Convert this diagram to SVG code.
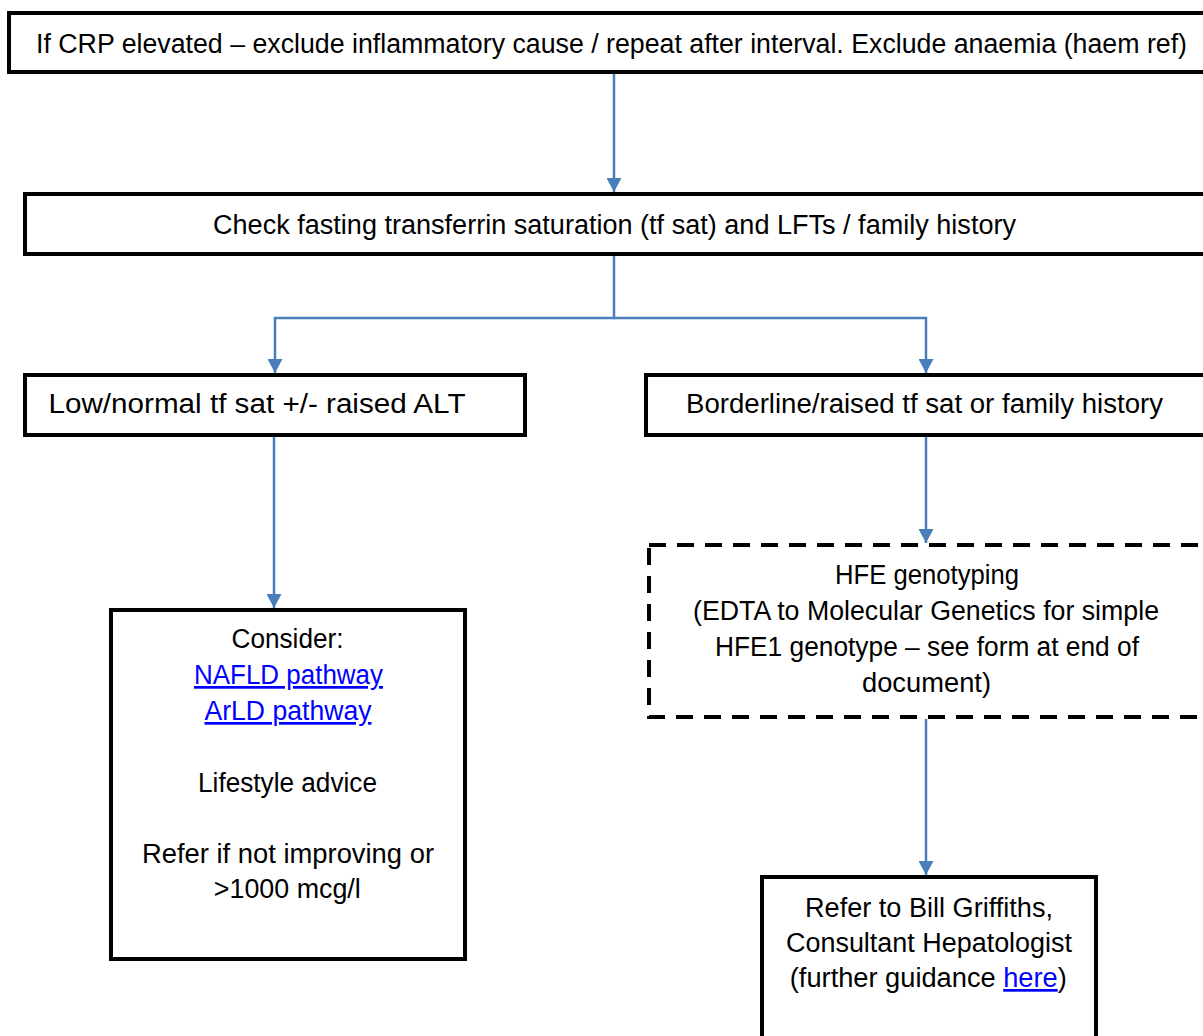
<svg xmlns="http://www.w3.org/2000/svg" width="1203" height="1036" viewBox="0 0 1203 1036">
  <defs>
    <style>
      .box { fill: #ffffff; stroke: #000000; stroke-width: 4; }
      .dashed { fill: #ffffff; stroke: #000000; stroke-width: 4; stroke-dasharray: 17 11; }
      .conn { fill: none; stroke: #4a7ebb; stroke-width: 2.5; }
      .label { font-family: "Liberation Sans", Arial, sans-serif; font-size: 27px; fill: #000000; text-anchor: middle; }
      .link { fill: #0000ff; text-decoration: underline; }
    </style>
    <marker id="arrow" viewBox="0 0 14 15" refX="14" refY="7.5" markerWidth="14" markerHeight="15" markerUnits="userSpaceOnUse" orient="auto">
      <path d="M0,0 L14,7.5 L0,15 Z" fill="#4a7ebb"/>
    </marker>
  </defs>

  <rect width="1203" height="1036" fill="#ffffff"/>

  <!-- connectors -->
  <g id="connectors">
    <path class="conn" d="M614,74 V192" marker-end="url(#arrow)"/>
    <path class="conn" d="M614,256 V318 H275 V373" marker-end="url(#arrow)"/>
    <path class="conn" d="M614,318 H926 V373" marker-end="url(#arrow)"/>
    <path class="conn" d="M274,437 V608" marker-end="url(#arrow)"/>
    <path class="conn" d="M926,437 V543" marker-end="url(#arrow)"/>
    <path class="conn" d="M926,719 V875" marker-end="url(#arrow)"/>
  </g>

  <!-- CRP check -->
  <g id="crp">
    <rect class="box" x="9" y="13" width="1210" height="59"/>
    <text class="label" x="611.5" y="53" textLength="1151" lengthAdjust="spacingAndGlyphs">If CRP elevated – exclude inflammatory cause / repeat after interval. Exclude anaemia (haem ref)</text>
  </g>

  <!-- transferrin saturation -->
  <g id="tfsat">
    <rect class="box" x="25" y="194" width="1200" height="60"/>
    <text class="label" x="614.5" y="234" textLength="803" lengthAdjust="spacingAndGlyphs">Check fasting transferrin saturation (tf sat) and LFTs / family history</text>
  </g>

  <!-- low / normal branch -->
  <g id="low">
    <rect class="box" x="25" y="375" width="500" height="60"/>
    <text class="label" x="257" y="413" textLength="417" lengthAdjust="spacingAndGlyphs">Low/normal tf sat +/- raised ALT</text>
  </g>

  <!-- borderline / raised branch -->
  <g id="borderline">
    <rect class="box" x="646" y="375" width="580" height="60"/>
    <text class="label" x="924.5" y="413" textLength="477" lengthAdjust="spacingAndGlyphs">Borderline/raised tf sat or family history</text>
  </g>

  <!-- consider -->
  <g id="consider">
    <rect class="box" x="111" y="610" width="354" height="349"/>
    <text class="label" x="287.5" y="648" textLength="112" lengthAdjust="spacingAndGlyphs">Consider:</text>
    <text class="label link" x="288.5" y="684" textLength="189" lengthAdjust="spacingAndGlyphs">NAFLD pathway</text>
    <text class="label link" x="288" y="720" textLength="167" lengthAdjust="spacingAndGlyphs">ArLD pathway</text>
    <text class="label" x="287.5" y="792" textLength="179" lengthAdjust="spacingAndGlyphs">Lifestyle advice</text>
    <text class="label" x="288" y="863" textLength="292" lengthAdjust="spacingAndGlyphs">Refer if not improving or</text>
    <text class="label" x="287.3" y="898" textLength="147" lengthAdjust="spacingAndGlyphs">&gt;1000 mcg/l</text>
  </g>

  <!-- HFE genotyping -->
  <g id="hfe">
    <rect class="dashed" x="649" y="545" width="580" height="172"/>
    <text class="label" x="927" y="584" textLength="184" lengthAdjust="spacingAndGlyphs">HFE genotyping</text>
    <text class="label" x="926" y="620" textLength="466" lengthAdjust="spacingAndGlyphs">(EDTA to Molecular Genetics for simple</text>
    <text class="label" x="927" y="656" textLength="424" lengthAdjust="spacingAndGlyphs">HFE1 genotype – see form at end of</text>
    <text class="label" x="926.5" y="692" textLength="129" lengthAdjust="spacingAndGlyphs">document)</text>
  </g>

  <!-- referral -->
  <g id="refer">
    <rect class="box" x="762" y="877" width="334" height="170"/>
    <text class="label" x="929" y="917" textLength="248" lengthAdjust="spacingAndGlyphs">Refer to Bill Griffiths,</text>
    <text class="label" x="929" y="952" textLength="286" lengthAdjust="spacingAndGlyphs">Consultant Hepatologist</text>
    <text class="label" x="928.3" y="987" textLength="277" lengthAdjust="spacingAndGlyphs">(further guidance <tspan class="link">here</tspan>)</text>
  </g>
</svg>
